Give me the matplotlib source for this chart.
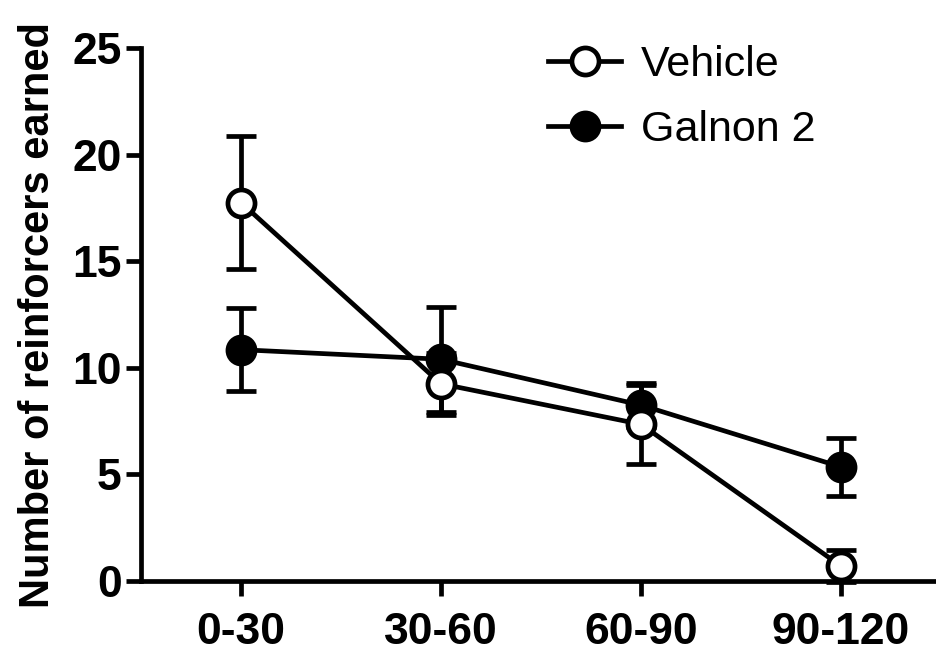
import matplotlib
matplotlib.use('Agg')

import matplotlib.pyplot as plt
import numpy as np
from matplotlib.lines import Line2D

# ---------------------------
# DATA
# ---------------------------
bins = ["0-30", "30-60", "60-90", "90-120"]

vehicle_mean = [17.75, 9.25, 7.35, 0.7]
vehicle_sem = [3.1, 1.45, 1.85, 0.75]

galnon_mean = [10.85, 10.4, 8.25, 5.35]
galnon_sem = [1.95, 2.45, 1.05, 1.35]

plt.rcParams['font.family'] = ['Liberation Sans', 'DejaVu Sans']

# ---------------------------
# FIGURE
# ---------------------------
fig = plt.figure(figsize=(9.37, 6.51), dpi=100)
ax = fig.add_axes([141/937, 70/651, 1 - 141/937, 533/651])

x = np.arange(len(bins))
lw = 3.4
ms = 19.5

ax.errorbar(x, galnon_mean, yerr=galnon_sem, color='black', lw=lw,
            elinewidth=lw, capsize=11, capthick=lw,
            marker='o', ms=ms, mfc='black', mec='black', mew=lw,
            zorder=3, clip_on=False)
ax.errorbar(x, vehicle_mean, yerr=vehicle_sem, color='black', lw=lw,
            elinewidth=lw, capsize=11, capthick=lw,
            marker='o', ms=ms, mfc='white', mec='black', mew=lw,
            zorder=4, clip_on=False)

ax.set_xlim(-0.5, 3.48)
ax.set_ylim(0, 25)
ax.set_xticks(x)
ax.set_xticklabels(bins)
ax.set_yticks([0, 5, 10, 15, 20, 25])

for s in ['top', 'right']:
    ax.spines[s].set_visible(False)
for s in ['left', 'bottom']:
    ax.spines[s].set_linewidth(lw)

ax.tick_params(axis='both', direction='out', length=11, width=lw,
               labelsize=32)
ax.tick_params(axis='x', pad=11)
ax.tick_params(axis='y', pad=3)
for t in ax.get_xticklabels() + ax.get_yticklabels():
    t.set_fontweight('bold')

ax.set_ylabel("Number of reinforcers earned", fontsize=30,
              fontweight='bold', labelpad=10)

# legend without error bars
h_veh = Line2D([], [], color='black', lw=lw, marker='o', ms=ms,
               mfc='white', mec='black', mew=lw)
h_gal = Line2D([], [], color='black', lw=lw, marker='o', ms=ms,
               mfc='black', mec='black', mew=lw)
fig.legend([h_veh, h_gal], ["Vehicle", "Galnon 2"], loc='upper left',
           bbox_to_anchor=(548/937, 1 - 45/651), borderpad=0,
           borderaxespad=0, frameon=False, fontsize=31,
           handlelength=1.7, handletextpad=0.45, labelspacing=0.58)

fig.savefig("out.png", dpi=100)
